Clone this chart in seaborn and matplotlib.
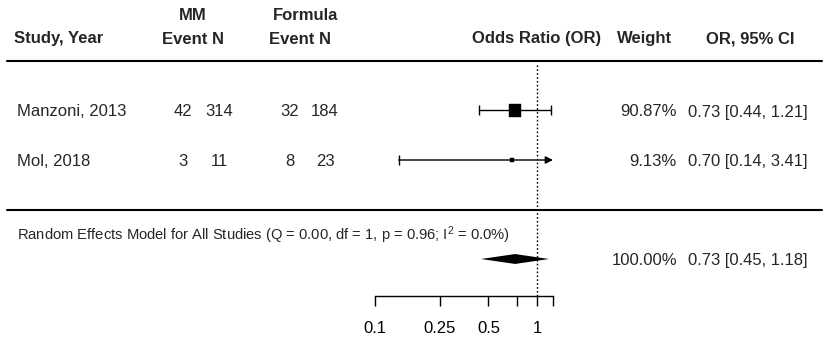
import pandas as pd
import seaborn as sns
import matplotlib.pyplot as plt

# data
studies = ["Manzoni, 2013", "Mol, 2018"]
mm_event = [42, 3]
mm_n = [314, 11]
formula_event = [32, 8]
formula_n = [184, 23]
odds_ratio = [0.73, 0.70]
ci_low = [0.44, 0.14]
ci_high = [1.21, 3.41]
weights = [90.87, 9.13]

pooled_label = "Random Effects Model for All Studies (Q = 0.00, df = 1, p = 0.96; I$^{2}$ = 0.0%)"
pooled_or = 0.73
pooled_low = 0.45
pooled_high = 1.18
pooled_weight = 100.00

axis_ticks = [0.1, 0.25, 0.5, 0.75, 1, 1.25]
axis_labels = ["0.1", "0.25", "0.5", "", "1", ""]

df = pd.DataFrame({"study": studies, "or": odds_ratio, "lo": ci_low, "hi": ci_high,
                   "weight": weights, "row": [4, 3]})
pooled_row = 1

sns.set_style("white")
plt.rcParams['font.family'] = ['Liberation Sans', 'DejaVu Sans']
plt.rcParams['mathtext.fontset'] = 'custom'
plt.rcParams['mathtext.rm'] = 'Liberation Sans'
plt.rcParams['mathtext.it'] = 'Liberation Sans'
FS = 12

W, H = 829, 340
fig = plt.figure(figsize=(W / 100, H / 100), dpi=100)

# pixel overlay for the table text
tx = fig.add_axes([0, 0, 1, 1])
tx.set_xlim(0, W)
tx.set_ylim(H, 0)
tx.axis("off")

# forest panel: log x from 0.1 to 1.25, rows on y
px_left, px_right, px_top, px_bot = 375, 553, 63, 296
ax = fig.add_axes([px_left / W, (H - px_bot) / H, (px_right - px_left) / W, (px_bot - px_top) / H])
ax.patch.set_alpha(0)
row_px = 49.5
y0_px = 110.5


def ypix(r):
    # text is centred on its full line box, shift so caps sit on the row
    return y0_px + (4 - r) * row_px + 1.5


ax.set_ylim(4 - (px_bot - y0_px) / row_px, 4 + (y0_px - px_top) / row_px)
ax.set_xscale("log")
xmin, xmax = 0.1, 1.25
ax.set_xlim(xmin, xmax)

# headers
hb = dict(fontsize=FS, fontweight="bold", va="center")
tx.text(14, 39, "Study, Year", ha="left", **hb)
tx.text(193, 15, "MM", ha="center", **hb)
tx.text(193, 39, "Event N", ha="center", **hb)
tx.text(306, 15, "Formula", ha="center", **hb)
tx.text(300, 39, "Event N", ha="center", **hb)
tx.text(537, 39, "Odds Ratio (OR)", ha="center", **hb)
tx.text(645, 39, "Weight", ha="center", **hb)
tx.text(750, 39, "OR, 95% CI", ha="center", **hb)

tx.plot([7, 822], [61, 61], color="black", lw=1.5)
tx.plot([7, 822], [210, 210], color="black", lw=1.5)

# study rows
for s, e1, n1, e2, n2, o, lo, hi, w, r in zip(studies, mm_event, mm_n, formula_event, formula_n,
                                           odds_ratio, ci_low, ci_high, weights, df["row"]):
    y = ypix(r)
    tx.text(17, y, s, ha="left", va="center", fontsize=FS)
    tx.text(183, y, str(e1), ha="center", va="center", fontsize=FS)
    tx.text(219, y, str(n1), ha="center", va="center", fontsize=FS)
    tx.text(290, y, str(e2), ha="center", va="center", fontsize=FS)
    tx.text(325, y, str(n2), ha="center", va="center", fontsize=FS)
    tx.text(677, y, f"{w:.2f}%", ha="right", va="center", fontsize=FS)
    tx.text(808, y, f"{o:.2f} [{lo:.2f}, {hi:.2f}]", ha="right", va="center", fontsize=FS)

tx.text(17, 235.5, pooled_label, ha="left", va="center", fontsize=10.6)
yp = ypix(pooled_row)
tx.text(677, yp, f"{pooled_weight:.2f}%", ha="right", va="center", fontsize=FS)
tx.text(808, yp, f"{pooled_or:.2f} [{pooled_low:.2f}, {pooled_high:.2f}]",
        ha="right", va="center", fontsize=FS)

# reference line
ax.axvline(1, ls=(0, (1.2, 1.6)), color="black", lw=1)

# confidence intervals
for lo, hi, r in zip(df["lo"], df["hi"], df["row"]):
    if hi > xmax:
        ax.annotate("", xy=(xmax, r), xytext=(lo, r),
                    arrowprops=dict(arrowstyle="-|>", color="black", lw=1,
                                    mutation_scale=11, shrinkA=0, shrinkB=0))
        ax.plot([lo], [r], marker="|", ms=7, color="black", mew=1)
    else:
        ax.plot([lo, hi], [r, r], color="black", lw=1)
        ax.plot([lo, hi], [r, r], ls="none", marker="|", ms=7, color="black", mew=1)

# weighted squares
sns.scatterplot(data=df, x="or", y="row", size="weight", sizes=(6, 75), marker="s",
                color="black", edgecolor="black", legend=False, ax=ax, zorder=3)

# pooled diamond
h = 0.1
ax.fill([pooled_low, pooled_or, pooled_high, pooled_or],
        [pooled_row, pooled_row + h, pooled_row, pooled_row - h],
        color="black", lw=0, zorder=3)

# bottom axis
for side in ["top", "left", "right"]:
    ax.spines[side].set_visible(False)
ax.spines["bottom"].set_linewidth(1)
ax.spines["bottom"].set_color("black")
ax.set_xticks(axis_ticks)
ax.set_xticklabels(axis_labels)
ax.xaxis.set_minor_locator(plt.NullLocator())
ax.tick_params(axis="x", direction="out", length=7, width=1, pad=11,
               labelsize=FS, colors="black", bottom=True)
ax.set_yticks([])
ax.set_xlabel("")
ax.set_ylabel("")

fig.savefig("out.png", dpi=100)
